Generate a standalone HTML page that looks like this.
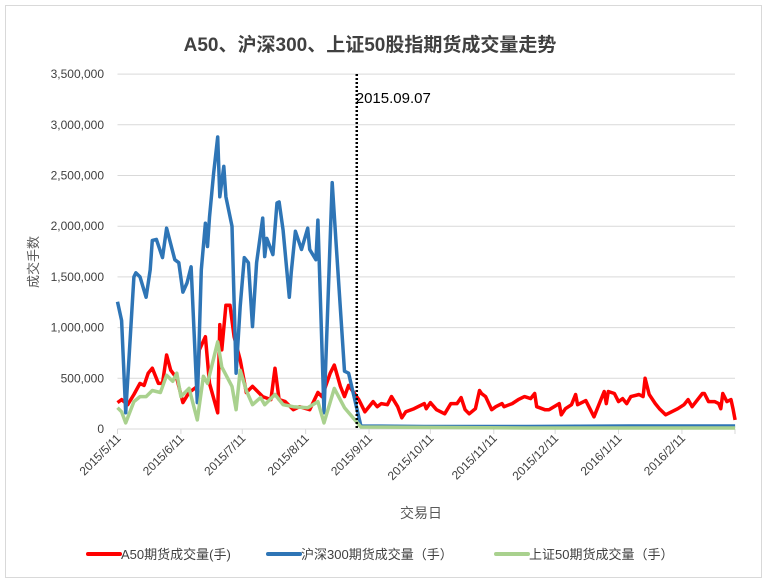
<!DOCTYPE html>
<html><head><meta charset="utf-8"><style>
body{margin:0;background:#fff;}
svg{display:block;font-family:"Liberation Sans","Noto Sans CJK SC",sans-serif;}
</style></head><body>
<svg width="768" height="583" viewBox="0 0 768 583">
<rect x="5.5" y="5.5" width="756" height="572" fill="#fff" stroke="#d9d9d9"/>
<text x="370" y="51" text-anchor="middle" font-size="19" font-weight="bold" fill="#404040">A50、沪深300、上证50股指期货成交量走势</text>
<g id="grid"></g><g id="yt"></g><g id="xt"></g><g id="series"></g>
<text transform="translate(38,262) rotate(-90)" text-anchor="middle" font-size="13" fill="#595959">成交手数</text>
<text x="421" y="518" text-anchor="middle" font-size="14" fill="#595959">交易日</text>
<g font-size="13" fill="#404040">
<g><line x1="88" y1="554" x2="120" y2="554" stroke="#ff0000" stroke-width="4" stroke-linecap="round"/><text x="121" y="559">A50期货成交量(手)</text></g>
<g><line x1="268" y1="554" x2="300" y2="554" stroke="#2e75b6" stroke-width="4" stroke-linecap="round"/><text x="301" y="559">沪深300期货成交量（手）</text></g>
<g><line x1="496" y1="554" x2="528" y2="554" stroke="#a9d18e" stroke-width="4" stroke-linecap="round"/><text x="529" y="559">上证50期货成交量（手）</text></g>
</g>
</svg>
<script>
// days since 2015/5/11, values in millions
const yTicks=[0,500000,1000000,1500000,2000000,2500000,3000000,3500000];
const xTickDays=[0,31,61,92,123,153,184,214,245,276];
const xTickLabels=["2015/5/11","2015/6/11","2015/7/11","2015/8/11","2015/9/11","2015/10/11","2015/11/11","2015/12/11","2016/1/11","2016/2/11"];
const markerDay=117;
const markerLabel="2015.09.07";
const blueDays=[0,2,4,8,9,11,14,16,17,19,22,24,28,30,32,34,36,39,41,43,44,45,47,49,50,52,53,56,58,60,62,64,66,68,71,72,73,76,78,79,81,84,85,87,90,93,94,97,98,101,105,107,111,113,119,150,200,250,302];
const blueVals=[1.255,1.07,0.16,1.50,1.54,1.50,1.30,1.57,1.86,1.87,1.69,1.98,1.67,1.64,1.35,1.44,1.60,0.26,1.57,2.03,1.80,2.09,2.52,2.88,2.29,2.59,2.29,2.00,0.55,1.21,1.69,1.64,1.01,1.64,2.08,1.70,1.88,1.72,2.23,2.24,1.96,1.30,1.55,1.95,1.77,1.98,1.77,1.67,2.06,0.16,2.43,1.80,0.57,0.55,0.03,0.025,0.025,0.03,0.03];
const redDays=[0,2,5,8,11,13,15,17,20,22,24,26,29,32,35,39,40,43,45,49,50,51,53,55,57,60,63,66,69,71,75,77,79,82,86,89,94,98,100,104,106,109,111,113,118,121,125,127,129,132,134,137,139,141,145,150,151,153,156,160,163,166,168,170,172,175,177,178,180,183,185,188,189,193,196,199,202,204,205,209,211,216,217,219,222,224,225,229,233,236,238,239,240,243,245,247,249,251,255,257,258,260,263,265,268,274,277,279,281,286,287,289,292,294,295,296,298,300,301,302];
const redVals=[0.26,0.29,0.24,0.34,0.45,0.43,0.55,0.60,0.45,0.45,0.73,0.58,0.50,0.26,0.36,0.42,0.78,0.91,0.45,0.16,1.03,0.78,1.22,1.22,0.91,0.68,0.36,0.42,0.36,0.32,0.29,0.60,0.29,0.27,0.19,0.22,0.19,0.36,0.32,0.55,0.63,0.42,0.32,0.43,0.29,0.17,0.27,0.22,0.25,0.24,0.32,0.22,0.11,0.17,0.20,0.25,0.20,0.26,0.19,0.15,0.25,0.25,0.31,0.19,0.15,0.20,0.38,0.35,0.32,0.19,0.22,0.25,0.22,0.25,0.29,0.32,0.30,0.35,0.22,0.19,0.19,0.25,0.14,0.20,0.24,0.34,0.24,0.28,0.12,0.27,0.37,0.25,0.37,0.35,0.27,0.30,0.25,0.32,0.34,0.32,0.50,0.34,0.25,0.20,0.14,0.20,0.24,0.29,0.22,0.35,0.35,0.27,0.27,0.25,0.20,0.35,0.27,0.29,0.20,0.09];
const greenDays=[0,2,4,8,11,14,17,21,24,27,29,31,35,39,42,44,49,51,56,58,60,63,66,70,72,77,81,86,93,98,101,106,111,119,200,302];
const greenVals=[0.21,0.17,0.06,0.27,0.32,0.32,0.38,0.36,0.53,0.47,0.55,0.32,0.40,0.09,0.52,0.45,0.86,0.61,0.42,0.19,0.58,0.38,0.24,0.31,0.24,0.34,0.24,0.22,0.21,0.27,0.06,0.40,0.21,0.02,0.01,0.01];

const NS="http://www.w3.org/2000/svg";
const X0=117.5,PXD=2.045,Y0=429,PYU=101.4/1e6,XR=735;
const xs=d=>X0+d*PXD, ys=v=>Y0-v*PYU;
function mk(t,a,p){const e=document.createElementNS(NS,t);for(const k in a)e.setAttribute(k,a[k]);p.appendChild(e);return e;}
const grid=document.getElementById('grid'),yt=document.getElementById('yt'),xt=document.getElementById('xt'),ser=document.getElementById('series');
yTicks.forEach(v=>{
 if(v>0){const g=mk('line',{x1:X0,x2:XR,y1:ys(v),y2:ys(v),stroke:'#d9d9d9','stroke-width':1},grid);
 
 }
 const t=mk('text',{x:104,y:ys(v)+4,'text-anchor':'end','font-size':12,fill:'#404040'},yt);
 t.textContent=v.toLocaleString('en-US');
 
 
});
const ax=mk('line',{x1:X0,x2:XR,y1:Y0,y2:Y0,stroke:'#d9d9d9'},xt);


xTickDays.forEach((d,i)=>{
 const x=xs(d);
 const tk=mk('line',{x1:x,x2:x,y1:Y0,y2:Y0+5,stroke:'#d9d9d9'},xt);
 
 
 const t=mk('text',{transform:`translate(${x+4},${Y0+10}) rotate(-45)`,'text-anchor':'end','font-size':12,fill:'#404040'},xt);
 t.textContent=xTickLabels[i];
 
 
});
const endT=mk('line',{x1:XR,x2:XR,y1:Y0,y2:Y0+5,stroke:'#d9d9d9'},xt);


function line(days,vals,col,name){
 const p=mk('polyline',{points:days.map((d,i)=>xs(d).toFixed(1)+','+ys(vals[i]*1e6).toFixed(1)).join(' '),fill:'none',stroke:col,'stroke-width':3.5,'stroke-linejoin':'round'},ser);
 
 
}
line(redDays,redVals,'#ff0000','series-a50');
line(blueDays,blueVals,'#2e75b6','series-hs300');
line(greenDays,greenVals,'#a9d18e','series-sz50');
const mx=xs(markerDay);
const ml=mk('line',{x1:mx,x2:mx,y1:74,y2:Y0,stroke:'#000','stroke-width':2.5,'stroke-dasharray':'2,2'},ser);


const mt=mk('text',{x:mx-1,y:103,'font-size':15,fill:'#000'},ser);
mt.textContent=markerLabel;


</script>
</body></html>
